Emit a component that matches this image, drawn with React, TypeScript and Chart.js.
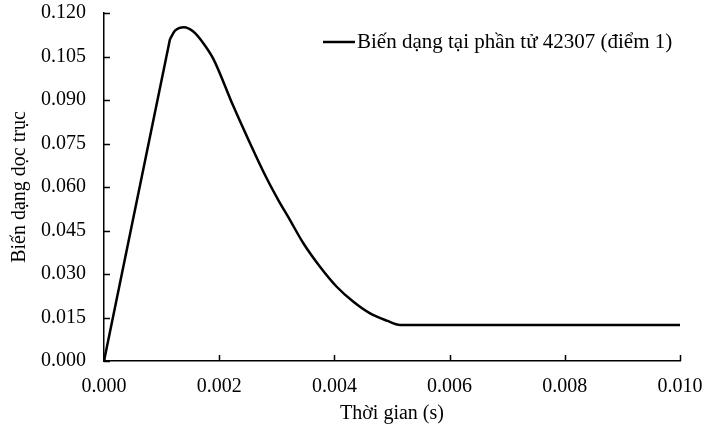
import React, { useEffect, useRef } from "react";
import { Chart, registerables } from "chart.js";

Chart.register(...registerables);

const seriesLabel = "Biến dạng tại phần tử 42307 (điểm 1)";
const xTitle = "Thời gian (s)";
const yTitle = "Biến dạng dọc trục";

const timeValues = [
  0, 0.001146, 0.001233, 0.001389, 0.00155, 0.001724, 0.001898, 0.002245,
  0.002535, 0.002824, 0.003026, 0.0032, 0.003461, 0.00375, 0.00404, 0.00433,
  0.00462, 0.00491, 0.00514, 0.01,
];
const strainValues = [
  0, 0.111, 0.1139, 0.1151, 0.1136, 0.1096, 0.1042, 0.0879, 0.0751, 0.063,
  0.0555, 0.0496, 0.0406, 0.0325, 0.0256, 0.0204, 0.0164, 0.0139, 0.0124,
  0.0124,
];

const xTicks = [0, 0.002, 0.004, 0.006, 0.008, 0.01];
const yTicks = [0, 0.015, 0.03, 0.045, 0.06, 0.075, 0.09, 0.105, 0.12];

const FONT = "'Liberation Serif', 'Times New Roman', serif";

const points = timeValues.map((t, i) => ({ x: t, y: strainValues[i] }));
// straight loading branch (first two points) and smooth remainder
const risePoints = points.slice(0, 2);
const curvePoints = points.slice(1);

const insideTicks = {
  id: "insideTicks",
  afterDraw(chart: any) {
    const ctx = chart.ctx;
    const xs = chart.scales.x;
    const ys = chart.scales.y;
    const area = chart.chartArea;
    ctx.save();
    ctx.strokeStyle = "#000";
    ctx.lineWidth = 1.5;
    ctx.beginPath();
    xs.ticks.forEach((t: any) => {
      const px = Math.round(xs.getPixelForValue(t.value)) + 0.5;
      ctx.moveTo(px, area.bottom);
      ctx.lineTo(px, area.bottom - 6);
    });
    ys.ticks.forEach((t: any) => {
      const py = Math.round(ys.getPixelForValue(t.value)) + 0.5;
      ctx.moveTo(area.left, py);
      ctx.lineTo(area.left + 6, py);
    });
    ctx.stroke();
    ctx.restore();
  },
};

const innerLegend = {
  id: "innerLegend",
  afterDraw(chart: any) {
    const ctx = chart.ctx;
    const ds = chart.data.datasets[0];
    const y = 42;
    ctx.save();
    ctx.strokeStyle = ds.borderColor;
    ctx.lineWidth = ds.borderWidth;
    ctx.beginPath();
    ctx.moveTo(323, y);
    ctx.lineTo(355, y);
    ctx.stroke();
    ctx.fillStyle = "#000";
    ctx.font = `21px ${FONT}`;
    ctx.textAlign = "left";
    ctx.textBaseline = "middle";
    ctx.fillText(ds.label, 357, y);
    ctx.restore();
  },
};

export default function App() {
  const ref = useRef<HTMLCanvasElement>(null);

  useEffect(() => {
    document.body.style.margin = "0";
    const canvas = ref.current;
    if (!canvas) return;
    const hiddenGrid = (len: number) => ({
      display: true,
      drawOnChartArea: false,
      drawTicks: true,
      tickLength: len,
      color: "rgba(0,0,0,0)",
    });
    const chart = new Chart(canvas, {
      type: "line",
      data: {
        datasets: [
          {
            label: seriesLabel,
            data: curvePoints,
            borderColor: "#000",
            borderWidth: 2.5,
            pointRadius: 0,
            fill: false,
            cubicInterpolationMode: "monotone",
          },
          {
            label: seriesLabel,
            data: risePoints,
            borderColor: "#000",
            borderWidth: 2.5,
            pointRadius: 0,
            fill: false,
            tension: 0,
          },
        ],
      },
      options: {
        responsive: false,
        animation: false,
        devicePixelRatio: 1,
        layout: { padding: { top: 13, right: 25, left: 0, bottom: 0 } },
        plugins: {
          legend: { display: false },
          tooltip: { enabled: false },
        },
        scales: {
          x: {
            type: "linear",
            min: 0,
            max: 0.01,
            afterBuildTicks: (s: any) => {
              s.ticks = xTicks.map((v) => ({ value: v }));
            },
            afterFit: (s: any) => {
              s.height = 70;
            },
            grid: hiddenGrid(14),
            border: { display: true, color: "#000", width: 1.5 },
            ticks: {
              color: "#000",
              font: { family: FONT, size: 20 },
              padding: 0,
              maxRotation: 0,
              callback: (v: any) => Number(v).toFixed(3),
            },
            title: {
              display: true,
              text: xTitle,
              color: "#000",
              font: { family: FONT, size: 20 },
              padding: { top: 0, bottom: 5 },
            },
          },
          y: {
            type: "linear",
            min: 0,
            max: 0.12,
            afterBuildTicks: (s: any) => {
              s.ticks = yTicks.map((v) => ({ value: v }));
            },
            afterFit: (s: any) => {
              s.width = 104;
            },
            grid: hiddenGrid(18),
            border: { display: true, color: "#000", width: 1.5 },
            ticks: {
              color: "#000",
              font: { family: FONT, size: 20 },
              padding: 0,
              callback: (v: any) => Number(v).toFixed(3),
            },
            title: {
              display: true,
              text: yTitle,
              color: "#000",
              font: { family: FONT, size: 20 },
              padding: { top: 8, bottom: 0 },
            },
          },
        },
      },
      plugins: [insideTicks, innerLegend],
    });
    return () => chart.destroy();
  }, []);

  return <canvas ref={ref} width={705} height={431} style={{ display: "block" }} />;
}
